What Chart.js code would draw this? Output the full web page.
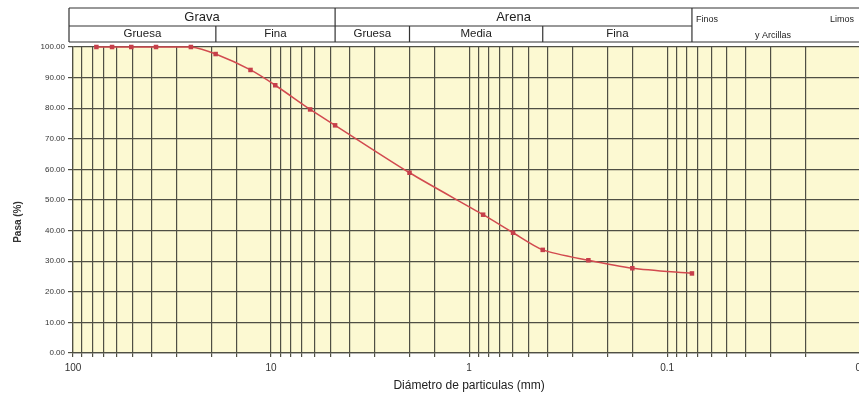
<!DOCTYPE html>
<html>
<head>
<meta charset="utf-8">
<script src="https://cdn.jsdelivr.net/npm/chart.js@4"></script>
<style>
  html, body { margin: 0; padding: 0; background: #fff; overflow: hidden; }
  #wrap { width: 859px; height: 394px; overflow: hidden; }
</style>
</head>
<body>
<div id="wrap"><canvas id="curva" width="880" height="394"></canvas></div>
<script>
// sieve openings (mm) and % passing
const diameters = [76.2, 63.5, 50.8, 38.1, 25.4, 19.05, 12.7, 9.525, 6.35, 4.75, 2.0, 0.85, 0.6, 0.425, 0.25, 0.15, 0.075];
const pasa = [100, 100, 100, 100, 100, 97.7, 92.5, 87.5, 79.6, 74.4, 58.9, 45.2, 39.3, 33.7, 30.3, 27.7, 26.0];
const decadeLabels = [100, 10, 1, 0.1, 0.01];

// header classification (limits in mm)
const mainGroups = [
  { label: "Grava", from: 100, to: 4.75 },
  { label: "Arena", from: 4.75, to: 0.075 },
];
const subGroups = [
  { label: "Gruesa", from: 100, to: 19 },
  { label: "Fina", from: 19, to: 4.75 },
  { label: "Gruesa", from: 4.75, to: 2 },
  { label: "Media", from: 2, to: 0.425 },
  { label: "Fina", from: 0.425, to: 0.075 },
];

const FONT = "'Liberation Sans', Arial, sans-serif";

const plotBackground = {
  id: "plotBackground",
  beforeDraw(chart) {
    const { ctx, chartArea: a } = chart;
    ctx.save();
    ctx.fillStyle = "#fcf9d2";
    ctx.fillRect(a.left, a.top, a.right - a.left, a.bottom - a.top);
    ctx.restore();
  },
};

const headerTable = {
  id: "headerTable",
  afterDraw(chart) {
    const { ctx } = chart;
    const x = chart.scales.x;
    const top = 8, mid = 26, bottom = 42;
    const left = x.getPixelForValue(100) - 4;
    const right = chart.width;
    const px = (v) => (v >= 100 ? left : x.getPixelForValue(v));
    ctx.save();
    ctx.strokeStyle = "#333";
    ctx.lineWidth = 1.2;
    ctx.beginPath();
    ctx.moveTo(left, top); ctx.lineTo(right, top);
    ctx.moveTo(left, bottom); ctx.lineTo(right, bottom);
    ctx.moveTo(left, mid); ctx.lineTo(px(0.075), mid);
    ctx.moveTo(left, top); ctx.lineTo(left, bottom);
    [4.75, 0.075].forEach((v) => { ctx.moveTo(px(v), top); ctx.lineTo(px(v), bottom); });
    [19, 2, 0.425].forEach((v) => { ctx.moveTo(px(v), mid); ctx.lineTo(px(v), bottom); });
    ctx.stroke();

    ctx.fillStyle = "#222";
    ctx.textAlign = "center";
    ctx.textBaseline = "middle";
    ctx.font = "13px " + FONT;
    mainGroups.forEach((g) => ctx.fillText(g.label, (px(g.from) + px(g.to)) / 2, 17));
    ctx.font = "11.5px " + FONT;
    subGroups.forEach((g) => ctx.fillText(g.label, (px(g.from) + px(g.to)) / 2, 34));

    ctx.font = "9px " + FONT;
    ctx.textAlign = "left";
    ctx.fillText("Finos", px(0.075) + 4, 20);
    ctx.fillText("Limos", 830, 20);
    ctx.fillText("y Arcillas", 755, 36);

    // y axis title
    ctx.translate(18, 222);
    ctx.rotate(-Math.PI / 2);
    ctx.textAlign = "center";
    ctx.font = "bold 10px " + FONT;
    ctx.fillStyle = "#333";
    ctx.fillText("Pasa (%)", 0, 0);
    ctx.restore();
  },
};

new Chart(document.getElementById("curva"), {
  type: "line",
  data: {
    datasets: [
      {
        label: "Pasa",
        data: diameters.map((d, i) => ({ x: d, y: pasa[i] })),
        borderColor: "#d24a4f",
        backgroundColor: "#c63f4a",
        borderWidth: 1.5,
        pointStyle: "rect",
        pointRadius: 3.2,
        pointBorderWidth: 0,
        tension: 0.25,
        clip: false,
      },
    ],
  },
  options: {
    responsive: false,
    animation: false,
    devicePixelRatio: 1,
    layout: { padding: { top: 47, left: 0, right: 14, bottom: 0 } },
    plugins: {
      legend: { display: false },
      tooltip: { enabled: false },
    },
    scales: {
      x: {
        type: "logarithmic",
        reverse: true,
        min: 0.01,
        max: 100,
        afterFit: (s) => { s.height = 41; },
        ticks: {
          autoSkip: false,
          maxRotation: 0,
          color: "#333",
          font: { family: FONT, size: 10 },
          padding: 5,
          callback: (v) => (decadeLabels.includes(Number(v)) ? String(Number(v)) : ""),
        },
        grid: { color: "#4f4f44", lineWidth: 1.2, tickLength: 4 },
        border: { color: "#4f4f44", width: 1.2 },
        title: {
          display: true,
          text: "Diámetro de particulas (mm)",
          color: "#222",
          font: { family: FONT, size: 12 },
          padding: { top: 0, bottom: 1 },
        },
      },
      y: {
        min: 0,
        max: 100,
        afterFit: (s) => { s.width = 73; },
        ticks: {
          stepSize: 10,
          color: "#333",
          font: { family: FONT, size: 8 },
          padding: 3,
          callback: (v) => Number(v).toFixed(2),
        },
        grid: { color: "#4f4f44", lineWidth: 1.2, tickLength: 5 },
        border: { color: "#4f4f44", width: 1.2 },
      },
    },
  },
  plugins: [plotBackground, headerTable],
});
</script>
</body>
</html>
